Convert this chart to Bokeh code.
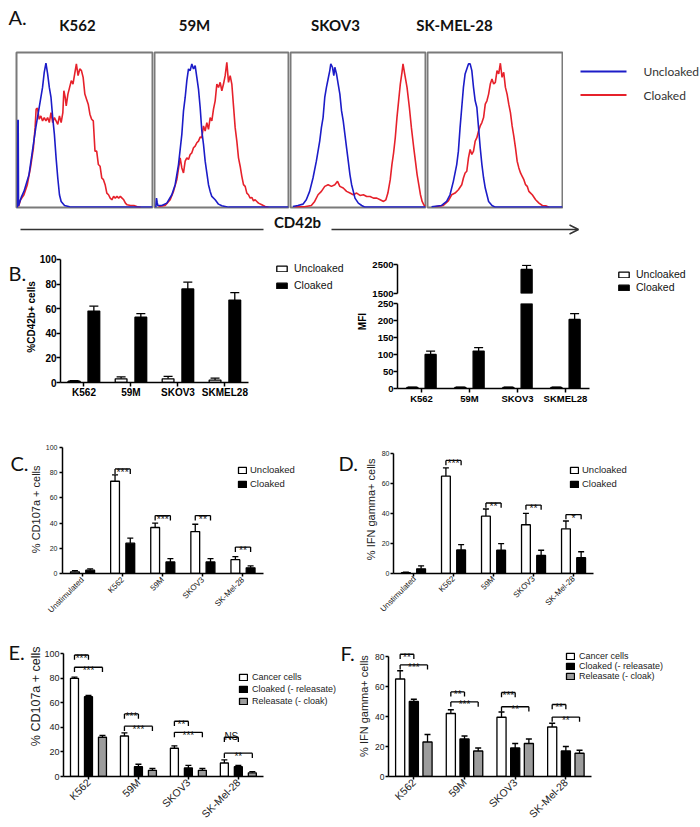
import math
from bokeh.plotting import figure
from bokeh.models import (ColumnDataSource, Range1d, Whisker, TeeHead,
                          Legend, LegendItem, Label, Arrow, OpenHead)
from bokeh.transform import dodge
from bokeh.layouts import row, column
from bokeh.embed import file_html
from bokeh.resources import INLINE
from bokeh.core.properties import value

# ---------------- Panel A: CD42b histograms (channel, count) ----------------
A_cells = ["K562", "59M", "SKOV3", "SK-MEL-28"]
A_legend = ["Uncloaked", "Cloaked"]

K562_unc_x = [9, 11, 12, 13, 14, 17, 22, 30, 45, 55, 65, 75, 85, 90, 95, 100, 105, 110, 115, 120, 125, 130, 135, 140, 150, 165, 410]
K562_unc_y = [0, 0, 260, 260, 5, 15, 30, 48, 98, 168, 238, 298, 358, 403, 430, 398, 358, 328, 268, 218, 148, 88, 38, 18, 6, 2, 1]
K562_clo_x = [14, 20, 30, 40, 50, 58, 63, 66, 70, 75, 80, 85, 90, 95, 100, 105, 110, 115, 120, 125, 130, 135, 140, 145, 148, 152, 155, 160, 165, 170,
              175, 180, 185, 190, 195, 200, 205, 210, 215, 220, 225, 230, 235, 240, 245, 250, 255, 260, 265, 270, 275, 280, 285, 290, 295, 300,
              305, 310, 315, 320, 325, 330, 335, 345, 355, 365, 375]
K562_clo_y = [3, 23, 38, 68, 123, 178, 238, 293, 296, 263, 273, 258, 268, 258, 268, 253, 283, 253, 268, 258, 248, 273, 253, 283, 348, 328, 303, 338, 358, 378,
              368, 398, 428, 393, 413, 408, 388, 338, 323, 308, 278, 263, 258, 168, 168, 128, 123, 88, 83, 68, 43, 38, 28, 23, 33, 28,
              33, 28, 33, 28, 23, 13, 8, 6, 6, 2, 0]

M59_unc_x = [12, 14, 16, 18, 30, 45, 60, 70, 80, 90, 95, 100, 105, 110, 115, 120, 125, 130, 135, 140, 145, 150, 155, 160, 165, 170, 175, 180, 190, 200, 210, 230, 410]
M59_unc_y = [0, 28, 15, 6, 6, 13, 38, 68, 128, 218, 288, 328, 378, 413, 408, 428, 413, 423, 388, 353, 298, 228, 188, 138, 103, 68, 48, 33, 23, 10, 5, 1, 1]
M59_clo_x = [20, 40, 55, 65, 75, 85, 90, 95, 100, 105, 110, 115, 120, 125, 130, 135, 140, 145, 150, 155, 160, 165, 170, 175, 180, 185, 190, 195, 200, 205,
             210, 215, 220, 225, 230, 235, 240, 245, 250, 255, 260, 265, 270, 275, 280, 285, 290, 295, 300, 305, 310, 315, 320, 330, 340, 350]
M59_clo_y = [3, 6, 23, 48, 83, 148, 118, 103, 138, 148, 143, 158, 163, 178, 183, 193, 198, 210, 208, 243, 228, 253, 233, 268, 258, 293, 318, 368, 358, 373,
             348, 368, 393, 433, 373, 393, 368, 303, 238, 198, 148, 123, 93, 68, 63, 43, 38, 28, 30, 20, 23, 18, 13, 8, 3, 1]

SKOV3_unc_x = [15, 30, 45, 55, 65, 75, 85, 95, 100, 105, 110, 115, 120, 125, 128, 133, 137, 140, 145, 150, 155, 160, 165, 170, 175, 180, 185, 190, 195, 200, 210, 220, 230, 410]
SKOV3_unc_y = [3, 6, 10, 23, 48, 88, 138, 198, 238, 268, 328, 358, 383, 408, 428, 418, 393, 418, 398, 368, 338, 288, 258, 218, 178, 138, 98, 68, 48, 28, 13, 6, 1, 1]
SKOV3_clo_x = [20, 50, 70, 80, 90, 100, 110, 120, 130, 140, 148, 155, 165, 175, 185, 195, 205, 215, 225, 235, 245, 255, 265, 275, 285, 292, 298, 305, 310, 315,
               320, 325, 330, 335, 340, 343, 348, 355, 362, 368, 375, 380, 385, 390, 395, 400, 405, 410]
SKOV3_clo_y = [2, 2, 6, 18, 38, 48, 63, 68, 63, 68, 78, 63, 58, 48, 43, 38, 43, 36, 38, 33, 33, 28, 28, 23, 18, 23, 43, 83, 128, 163,
               208, 268, 318, 368, 403, 428, 398, 358, 298, 238, 178, 138, 98, 68, 38, 18, 8, 3]

SKMEL_unc_x = [20, 50, 65, 75, 85, 95, 100, 105, 110, 115, 120, 125, 130, 135, 140, 145, 150, 155, 160, 165, 170, 175, 180, 185, 190, 200, 210, 410]
SKMEL_unc_y = [2, 6, 18, 38, 78, 128, 168, 238, 298, 358, 398, 413, 428, 428, 408, 358, 318, 298, 238, 178, 128, 88, 58, 38, 18, 6, 1, 1]
SKMEL_clo_x = [30, 55, 70, 80, 90, 100, 110, 115, 120, 125, 130, 135, 140, 145, 150, 155, 160, 165, 170, 175, 180, 185, 190, 195, 200, 205, 210, 215, 220, 225,
               230, 235, 240, 245, 250, 255, 260, 265, 270, 275, 280, 285, 290, 295, 300, 305, 310, 315, 320, 330, 340, 350, 360, 370]
SKMEL_clo_y = [2, 6, 20, 38, 43, 53, 68, 88, 103, 108, 148, 173, 158, 168, 198, 208, 228, 243, 253, 268, 308, 318, 338, 368, 383, 368, 373, 408, 398, 430,
               388, 403, 358, 338, 308, 283, 243, 213, 178, 138, 118, 103, 93, 83, 68, 63, 48, 43, 38, 23, 13, 6, 5, 1]

# ---------------- Panel B ----------------
B_cells = ["K562", "59M", "SKOV3", "SKMEL28"]
B_legend = ["Uncloaked", "Cloaked"]
B_pct_ticks = [0, 20, 40, 60, 80, 100]
B_pct_uncloaked = [1.0, 3.0, 3.0, 2.0]
B_pct_uncloaked_sem = [0.5, 1.5, 2.0, 1.5]
B_pct_cloaked = [58, 53, 76, 67]
B_pct_cloaked_sem = [4, 3, 5.5, 6]
B_mfi_ticks_high = [1500, 2500]
B_mfi_ticks_low = [0, 50, 100, 150, 200, 250]
B_mfi_uncloaked = [3, 3, 3, 3]
B_mfi_uncloaked_sem = [1, 1, 1, 1]
B_mfi_cloaked = [100, 110, 2330, 203]
B_mfi_cloaked_sem = [10, 10, 140, 17]

# ---------------- Panels C / D ----------------
CD_cells = ["Unstimulated", "K562", "59M", "SKOV3", "SK-Mel-28"]
CD_legend = ["Uncloaked", "Cloaked"]
C_ticks = [0, 20, 40, 60, 80, 100]
C_uncloaked = [1.3, 73.2, 36.5, 33.3, 11.0]
C_uncloaked_sem = [1.0, 5.0, 3.5, 5.8, 2.4]
C_cloaked = [2.6, 24.1, 9.2, 9.2, 4.5]
C_cloaked_sem = [1.0, 4.0, 2.6, 2.6, 1.5]
sig_idx = [1, 2, 3, 4]          # K562, 59M, SKOV3, SK-Mel-28
C_sig_y = [83, 46, 46, 21]
C_sig = ["***", "***", "**", "**"]

D_ticks = [0, 20, 40, 60, 80]
D_uncloaked = [0.6, 64.9, 38.2, 32.5, 29.8]
D_uncloaked_sem = [0.3, 5.5, 4.8, 7.6, 5.2]
D_cloaked = [3.1, 15.7, 15.5, 12.0, 10.5]
D_cloaked_sem = [2.0, 3.6, 4.4, 3.5, 4.0]
D_sig_y = [75.4, 47, 45.6, 39.3]
D_sig = ["***", "**", "**", "*"]

# ---------------- Panels E / F ----------------
EF_cells = ["K562", "59M", "SKOV3", "SK-Mel-28"]
EF_legend = ["Cancer cells", "Cloaked (- releasate)", "Releasate (- cloak)"]
E_ticks = [0, 20, 40, 60, 80, 100]
E_cancer = [80, 33, 23, 11]
E_cancer_sem = [1, 2.5, 2, 2.5]
E_cloaked = [65, 8, 7, 8]
E_cloaked_sem = [1, 2, 2, 1]
E_releasate = [32, 5, 5, 3]
E_releasate_sem = [1.5, 1.5, 1.5, 1]
E_sig1_y = [99, 51, 45, 32]
E_sig1 = ["***", "***", "**", "NS"]
E_sig2_y = [89, 41, 36, 19]
E_sig2 = ["***", "***", "***", "**"]

F_ticks = [0, 20, 40, 60, 80]
F_cancer = [65, 42, 39.5, 33]
F_cancer_sem = [5.5, 2.5, 3.5, 2.5]
F_cloaked = [50, 25, 19, 17]
F_cloaked_sem = [1.5, 2, 3, 3]
F_releasate = [23, 17, 22, 15.5]
F_releasate_sem = [5, 2, 3, 2]
F_sig1_y = [81.5, 56.4, 56, 48]
F_sig1 = ["**", "**", "***", "**"]
F_sig2_y = [74.4, 49.7, 46.5, 39.6]
F_sig2 = ["***", "***", "**", "**"]

# ---------------- styling ----------------
BLUE = "#1c1cc8"
RED = "#e6212b"
GRAY = "#9c9c9c"
FONT = "Liberation Sans"
TXT = "#222222"


def canvas(width, height):
    """A plain drawing area whose frame fills the whole figure (y grows downward)."""
    p = figure(width=width, height=height, x_range=Range1d(0, width), y_range=Range1d(height, 0),
               x_axis_location=None, y_axis_location=None, toolbar_location=None,
               output_backend="svg", min_border_left=0, min_border_right=0,
               min_border_top=0, min_border_bottom=0)
    p.grid.visible = False
    p.outline_line_color = None
    return p


def text_at(p, x, y, text, size, font=FONT, style="normal", align="left", angle=0.0, color=TXT):
    p.add_layout(Label(x=x, y=y, text=text, text_font=font, text_font_size=size,
                       text_font_style=style, text_align=align, text_baseline="middle",
                       angle=angle, text_color=color))


def hist_fig(width, ml, mr, ux, uy, cx, cy):
    p = figure(width=width, height=164, x_range=Range1d(8, 410), y_range=Range1d(0, 462),
               x_axis_location=None, y_axis_location=None, toolbar_location=None,
               output_backend="svg", min_border_left=ml, min_border_right=mr,
               min_border_top=4, min_border_bottom=5)
    p.grid.visible = False
    p.outline_line_color = "#7a7a7a"
    p.outline_line_width = 2
    p.line(cx, cy, line_color=RED, line_width=1.6)
    p.line(ux, uy, line_color=BLUE, line_width=1.6)
    return p


def style_axes(p, tick_size, bold, color, tick_out=4, lw=1.5, standoff=1):
    for ax in list(p.xaxis) + list(p.yaxis):
        ax.axis_line_color = "black"
        ax.axis_line_width = lw
        ax.major_tick_line_color = "black"
        ax.major_tick_line_width = lw
        ax.major_tick_in = 0
        ax.major_tick_out = tick_out
        ax.minor_tick_line_color = None
        ax.major_label_standoff = standoff
        ax.major_label_text_font = FONT
        ax.major_label_text_font_size = tick_size
        ax.major_label_text_color = color
        ax.major_label_text_font_style = "bold" if bold else "normal"


def bar_panel(width, height, ml, mt, mb, cats, px_per_cat, y0, y1, ticks, bound,
              series, bar_w, cap, x_axis=True):
    frame_w = width - ml
    n = len(cats)
    p = figure(width=width, height=height,
               x_range=Range1d(-0.5, -0.5 + frame_w / px_per_cat), y_range=Range1d(y0, y1),
               x_axis_location="below" if x_axis else None, toolbar_location=None,
               output_backend="svg", min_border_left=ml, min_border_right=0,
               min_border_top=mt, min_border_bottom=mb)
    p.grid.visible = False
    p.outline_line_color = None
    p.yaxis.ticker = ticks
    p.yaxis.bounds = (y0, bound)
    if x_axis:
        p.xaxis.ticker = list(range(n))
        p.xaxis.major_label_overrides = {i: c for i, c in enumerate(cats)}
        p.xaxis.bounds = (-0.5, n - 0.5)
    legend_rends = []
    for vals, sems, off, fill in series:
        style = dict(width=bar_w, fill_color=fill, line_color="black", line_width=1.3)
        full = ColumnDataSource(dict(idx=list(range(n)), top=list(vals)))
        shown = [i for i in range(n) if vals[i] > y0]   # bars that reach this panel's range
        if len(shown) == n:
            r = p.vbar(x=dodge("idx", off), top="top", source=full, **style)
        else:
            if shown:
                part = ColumnDataSource(dict(idx=shown, top=[vals[i] for i in shown]))
                p.vbar(x=dodge("idx", off), top="top", source=part, **style)
            # hidden full-series renderer, used only as the legend key
            r = p.vbar(x=dodge("idx", off), top="top", source=full, visible=False, **style)
        keep = [i for i in range(n) if vals[i] >= y0 and vals[i] + sems[i] <= y1]
        if keep:
            wsrc = ColumnDataSource(dict(idx=keep, top=[vals[i] for i in keep],
                                         hi=[vals[i] + sems[i] for i in keep]))
            p.add_layout(Whisker(source=wsrc, base=dodge("idx", off), lower="top", upper="hi",
                                 dimension="height", line_color="black", line_width=1.3,
                                 lower_head=None,
                                 upper_head=TeeHead(size=cap, line_color="black", line_width=1.3)))
        legend_rends.append(r)
    return p, legend_rends


def brackets(p, idx, ys, labels, off0, off1, drop, size):
    src = ColumnDataSource(dict(idx=list(idx), y=list(ys), yl=[y - drop for y in ys],
                                lab=list(labels), dy=[-1 if l == "NS" else 3 for l in labels]))
    x0 = dodge("idx", off0)
    x1 = dodge("idx", off1)
    kw = dict(source=src, line_color="black", line_width=1.3)
    p.segment(x0=x0, y0="y", x1=x1, y1="y", **kw)
    p.segment(x0=x0, y0="y", x1=x0, y1="yl", **kw)
    p.segment(x0=x1, y0="y", x1=x1, y1="yl", **kw)
    p.text(x=dodge("idx", (off0 + off1) / 2), y="y", text="lab", source=src,
           text_align="center", text_baseline="alphabetic", y_offset="dy",
           text_font=value(FONT), text_font_size=size, text_color="#111111")


def add_legend(p, rends, labels, loc, size, spacing, gw, gh, standoff, font=FONT, color=TXT):
    p.add_layout(Legend(items=[LegendItem(label=l, renderers=[r]) for l, r in zip(labels, rends)],
                        location=loc, orientation="vertical", glyph_width=gw, glyph_height=gh,
                        label_height=gh, label_width=10, label_standoff=standoff, spacing=spacing,
                        padding=0, margin=0, border_line_color=None, background_fill_alpha=0,
                        label_text_font=font, label_text_font_size=size, label_text_color=color))


# ================= Row A (y 0-240) =================
strip = canvas(700, 48)
text_at(strip, 8, 16, "A.", "20px", font="Lato", color="#111111")
for name, cx in zip(A_cells, [77, 194, 335, 454]):
    text_at(strip, cx, 24, name, "15px", font="Lato", style="bold", align="center", color="#111111")

pa1 = hist_fig(153, 16, 1, K562_unc_x, K562_unc_y, K562_clo_x, K562_clo_y)
pa2 = hist_fig(136, 1, 1, M59_unc_x, M59_unc_y, M59_clo_x, M59_clo_y)
pa3 = hist_fig(137, 1, 1, SKOV3_unc_x, SKOV3_unc_y, SKOV3_clo_x, SKOV3_clo_y)
pa4 = hist_fig(137, 1, 1, SKMEL_unc_x, SKMEL_unc_y, SKMEL_clo_x, SKMEL_clo_y)

# legend key for panel A (line keys + labels)
pa_leg = canvas(137, 164)
for color, label, ky in zip([BLUE, RED], A_legend, [20, 45]):
    pa_leg.add_layout(Arrow(end=None, x_start=17, y_start=ky, x_end=63, y_end=ky,
                            line_color=color, line_width=2))
    text_at(pa_leg, 80, ky, label, "12px", font="Lato", color="#333333")

arrow_c = canvas(700, 28)
arrow_c.add_layout(Arrow(end=None, x_start=20, y_start=17, x_end=263, y_end=17,
                         line_color="#333333", line_width=1.5))
arrow_c.add_layout(Arrow(end=OpenHead(size=9, line_color="#333333", line_width=1.5),
                         x_start=331, y_start=17, x_end=578, y_end=17,
                         line_color="#333333", line_width=1.5))
text_at(arrow_c, 297, 9, "CD42b", "15px", font="Lato", style="bold", align="center", color="#111111")

# ================= Row B (y 240-406) =================
gut_b = canvas(36, 166)
text_at(gut_b, 8, 24, "B.", "20px", font="Lato", color="#111111")
text_at(gut_b, 31, 81, "%CD42b+ cells", "10px", style="bold", align="center",
        angle=math.pi / 2, color="black")

pb1, rb1 = bar_panel(314, 166, 22, 14, 24, B_cells, 47.3, 0, 104, B_pct_ticks, 100,
                     [(B_pct_uncloaked, B_pct_uncloaked_sem, -0.21, "white"),
                      (B_pct_cloaked, B_pct_cloaked_sem, 0.21, "black")], 0.25, 9)
style_axes(pb1, "10px", True, "black", standoff=0)
add_legend(pb1, rb1, B_legend, (215, 91), "10.5px", 5, 13, 7, 6, color="#111111")

gut_b2 = canvas(18, 166)
text_at(gut_b2, 12, 87, "MFI", "10px", style="bold", align="center", angle=math.pi / 2,
        color="black")

mfi_series = [(B_mfi_uncloaked, B_mfi_uncloaked_sem, -0.19, "white"),
              (B_mfi_cloaked, B_mfi_cloaked_sem, 0.19, "black")]
pb2t, rb2 = bar_panel(332, 58, 29, 24, 5, B_cells, 48, 1500, 2500, B_mfi_ticks_high, 2500,
                      mfi_series, 0.23, 9, x_axis=False)
style_axes(pb2t, "9.5px", True, "black", standoff=0)
add_legend(pb2t, rb2, B_legend, (220, 0), "10.5px", 1, 13, 7, 6, color="#111111")
pb2b, _ = bar_panel(332, 108, 29, 5, 18, B_cells, 48, 0, 250, B_mfi_ticks_low, 250,
                    mfi_series, 0.23, 9)
style_axes(pb2b, "9.5px", True, "black", standoff=0)

# ================= Row C / D (y 406-620) =================
gut_c = canvas(42, 214)
text_at(gut_c, 10, 26, "C.", "20px", font="Lato", color="#111111")
text_at(gut_c, 35, 105, "% CD107a + cells", "11px", align="center", angle=math.pi / 2)

pc, rc = bar_panel(296, 214, 18, 41, 46, CD_cells, 40.4, 0, 100, C_ticks, 100,
                   [(C_uncloaked, C_uncloaked_sem, -0.19, "white"),
                    (C_cloaked, C_cloaked_sem, 0.19, "black")], 0.22, 6)
style_axes(pc, "7px", False, TXT, tick_out=3, standoff=2)
pc.xaxis.major_label_text_font_size = "8px"
pc.xaxis.major_label_orientation = math.pi / 4
brackets(pc, sig_idx, C_sig_y, C_sig, -0.19, 0.19, 5 * 100 / 127, "10.5px")
add_legend(pc, rc, CD_legend, (175, 84), "9.5px", 3, 10, 8, 3)

gut_d = canvas(40, 214)
text_at(gut_d, 0, 26, "D.", "20px", font="Lato", color="#111111")
text_at(gut_d, 32, 105, "% IFN gamma+ cells", "11px", align="center", angle=math.pi / 2)

pd, rd = bar_panel(322, 214, 12, 35, 46, CD_cells, 40.4, 0, 84, D_ticks, 80,
                   [(D_uncloaked, D_uncloaked_sem, -0.19, "white"),
                    (D_cloaked, D_cloaked_sem, 0.19, "black")], 0.22, 6)
style_axes(pd, "7px", False, TXT, tick_out=3, standoff=1)
pd.xaxis.major_label_text_font_size = "8px"
pd.xaxis.major_label_orientation = math.pi / 4
brackets(pd, sig_idx, D_sig_y, D_sig, -0.19, 0.19, 5 * 84 / 133, "10.5px")
add_legend(pd, rd, CD_legend, (176, 84), "9.5px", 3, 10, 8, 3)

# ================= Row E / F (y 620-827) =================
gut_e = canvas(41, 207)
text_at(gut_e, 8, 16, "E.", "20px", font="Lato", color="#111111")
text_at(gut_e, 35, 84, "% CD107a + cells", "12.5px", align="center", angle=math.pi / 2)

pe, re_ = bar_panel(297, 207, 19, 19, 48, EF_cells, 50.5, 0, 110, E_ticks, 100,
                    [(E_cancer, E_cancer_sem, -0.28, "white"),
                     (E_cloaked, E_cloaked_sem, 0.0, "black"),
                     (E_releasate, E_releasate_sem, 0.28, GRAY)], 0.16, 6)
style_axes(pe, "9px", False, TXT, tick_out=3, standoff=1)
pe.xaxis.major_label_text_font_size = "10.5px"
pe.xaxis.major_label_orientation = math.pi / 4
brackets(pe, range(4), E_sig1_y, E_sig1, -0.28, 0.0, 5 * 110 / 140, "10px")
brackets(pe, range(4), E_sig2_y, E_sig2, -0.28, 0.28, 5 * 110 / 140, "10px")
add_legend(pe, re_, EF_legend, (175, 70), "9px", 2, 10, 8, 4)

gut_f = canvas(34, 207)
text_at(gut_f, 2, 17, "F.", "20px", font="Lato", color="#111111")
text_at(gut_f, 25, 99, "% IFN gamma+ cells", "11px", align="center", angle=math.pi / 2)

pf, rf = bar_panel(328, 207, 14, 21, 43, EF_cells, 51, 0, 90, F_ticks, 80,
                   [(F_cancer, F_cancer_sem, -0.27, "white"),
                    (F_cloaked, F_cloaked_sem, 0.0, "black"),
                    (F_releasate, F_releasate_sem, 0.27, GRAY)], 0.18, 6)
style_axes(pf, "8.5px", False, TXT, tick_out=3, standoff=1)
pf.xaxis.major_label_text_font_size = "10.5px"
pf.xaxis.major_label_orientation = math.pi / 4
brackets(pf, range(4), F_sig1_y, F_sig1, -0.27, 0.0, 5 * 90 / 143, "10px")
brackets(pf, range(4), F_sig2_y, F_sig2, -0.27, 0.27, 5 * 90 / 143, "10px")
add_legend(pf, rf, EF_legend, (177, 95), "9px", -2, 10, 8, 4)

root = column(strip,
              row(pa1, pa2, pa3, pa4, pa_leg),
              arrow_c,
              row(gut_b, pb1, gut_b2, column(pb2t, pb2b)),
              row(gut_c, pc, gut_d, pd),
              row(gut_e, pe, gut_f, pf))

open("out.html", "w").write(file_html(root, INLINE))
